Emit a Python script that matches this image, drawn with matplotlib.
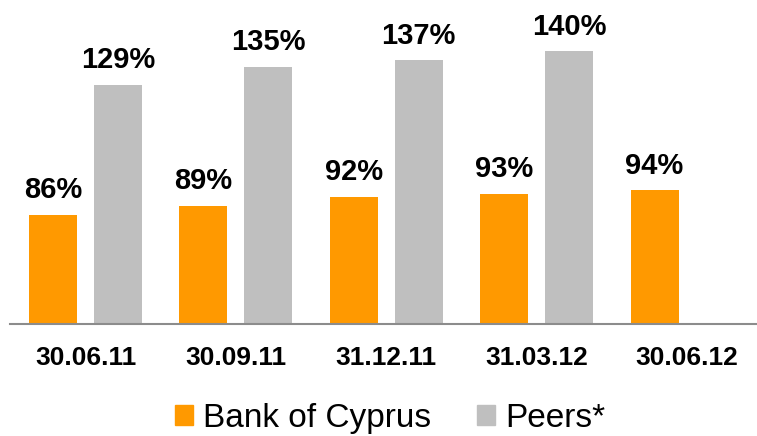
import matplotlib.pyplot as plt
import numpy as np
from matplotlib.patches import Patch

plt.rcParams['font.family'] = ['Liberation Sans', 'DejaVu Sans']

dates = ["30.06.11", "30.09.11", "31.12.11", "31.03.12", "30.06.12"]
boc = [86, 89, 92, 93, 94]
peers = [129, 135, 137, 140]

orange = "#FF9900"
grey = "#BFBFBF"

fig = plt.figure(figsize=(7.57, 4.36), dpi=100)
ax = fig.add_axes([10 / 757, 0.258, 1 - 10 / 757, 0.742])

x = np.arange(len(dates))
w = 0.32
off = 0.216
b1 = ax.bar(x - off, boc, w, color=orange, bottom=0)
b2 = ax.bar(x[:len(peers)] + off, peers, w, color=grey)

for xi, v in zip(x - off, boc):
    ax.annotate(f"{v}%", (xi, v), xytext=(0, 12), textcoords="offset points",
                ha="center", va="baseline", fontsize=21, fontweight="bold")
for xi, v in zip(x[:len(peers)] + off, peers):
    ax.annotate(f"{v}%", (xi, v), xytext=(0, 12), textcoords="offset points",
                ha="center", va="baseline", fontsize=21, fontweight="bold")

ax.set_ylim(50, 157)
ax.set_xlim(-0.502, 4.465)
ax.set_xticks(x)
ax.set_xticklabels(dates, fontsize=19, fontweight="bold")
ax.tick_params(axis="x", length=0, pad=16)
ax.set_yticks([])
for s in ["top", "right", "left"]:
    ax.spines[s].set_visible(False)
ax.spines["bottom"].set_color("#8C8C8C")
ax.spines["bottom"].set_linewidth(1.5)

handles = [Patch(color=orange, label="Bank of Cyprus"), Patch(color=grey, label="Peers*")]
fig.legend(handles=handles, loc="center", bbox_to_anchor=(390 / 757, 1 - 418 / 436),
           ncol=2, frameon=False, fontsize=24, handlelength=0.55, handleheight=0.55,
           handletextpad=0.3, columnspacing=1.35)

fig.savefig("out.png", dpi=100)
